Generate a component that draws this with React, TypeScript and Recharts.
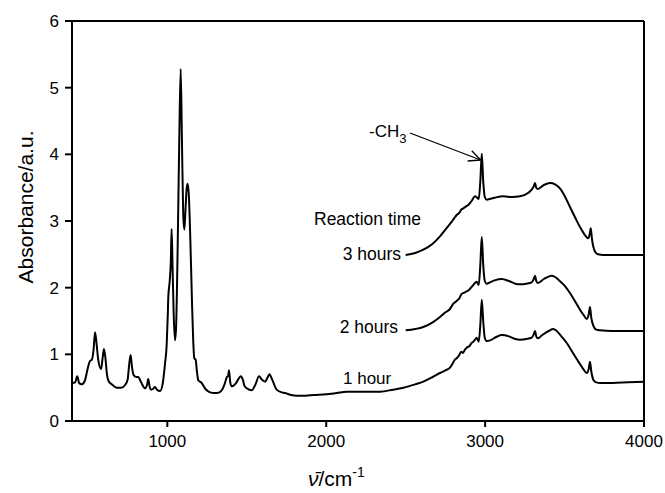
import { LineChart, Line, XAxis, YAxis, ReferenceLine } from 'recharts';

// wavenumber (cm-1) / absorbance
const wn1h = [
  400, 420, 433, 445, 460, 480, 500, 513, 525, 535, 545, 555, 565, 583, 593, 601, 610, 620, 630, 650,
  681, 710, 734, 750, 760, 769, 778, 790, 805, 817, 835, 860, 873, 880, 888, 897, 910, 922, 935, 954,
  970, 985, 996, 1003, 1006, 1015, 1022, 1027, 1033, 1040, 1048, 1055, 1065, 1075, 1084, 1092, 1100,
  1107, 1115, 1122, 1128, 1135, 1145, 1155, 1163, 1170, 1178, 1186, 1195, 1216, 1240, 1260, 1289,
  1315, 1342, 1360, 1375, 1383, 1388, 1396, 1405, 1430, 1450, 1462, 1475, 1485, 1500, 1531, 1555,
  1577, 1595, 1615, 1630, 1642, 1660, 1688, 1720, 1741, 1780, 1814, 1870, 1919, 2000, 2066, 2129,
  2200, 2339, 2420, 2486, 2560, 2611, 2670, 2716, 2750, 2779, 2800, 2810, 2821, 2835, 2850, 2860,
  2873, 2884, 2900, 2915, 2926, 2940, 2947, 2960, 2970, 2979, 2988, 2998, 3010, 3031, 3070, 3104,
  3150, 3190, 3220, 3260, 3293, 3306, 3314, 3322, 3332, 3360, 3400, 3429, 3451, 3480, 3514, 3550,
  3587, 3615, 3640, 3652, 3660, 3668, 3681, 3700, 3723, 3800, 3900, 4000,
];
const abs1h = [
  0.57, 0.58, 0.67, 0.57, 0.55, 0.6, 0.8, 0.9, 0.92, 1.05, 1.33, 1.15, 0.92, 0.78, 0.95, 1.08, 0.95, 0.7, 0.6, 0.55,
  0.5, 0.5, 0.54, 0.62, 0.85, 0.99, 0.8, 0.68, 0.66, 0.66, 0.58, 0.49, 0.55, 0.63, 0.52, 0.47, 0.48, 0.51, 0.47, 0.45,
  0.55, 0.85, 1.15, 1.6, 1.86, 2.1, 2.4, 2.88, 2.3, 1.6, 1.21, 1.4, 2.6, 4.2, 5.28, 4.2, 3.1,
  2.87, 3.2, 3.5, 3.56, 3.4, 2.7, 1.8, 1.2, 0.94, 0.92, 0.75, 0.61, 0.57, 0.48, 0.44, 0.42,
  0.42, 0.46, 0.55, 0.66, 0.68, 0.76, 0.58, 0.52, 0.56, 0.64, 0.67, 0.62, 0.53, 0.49, 0.46, 0.55,
  0.67, 0.62, 0.59, 0.65, 0.7, 0.62, 0.47, 0.43, 0.42, 0.39, 0.38, 0.38, 0.39, 0.4, 0.42, 0.44,
  0.44, 0.44, 0.47, 0.5, 0.55, 0.59, 0.66, 0.72, 0.76, 0.8, 0.88, 0.92, 0.94, 0.98, 1.04, 1.02,
  1.07, 1.1, 1.12, 1.17, 1.19, 1.23, 1.25, 1.19, 1.45, 1.82, 1.5, 1.25, 1.2, 1.21, 1.26, 1.29,
  1.27, 1.23, 1.22, 1.23, 1.25, 1.3, 1.35, 1.27, 1.24, 1.29, 1.35, 1.38, 1.35, 1.27, 1.17, 1.03,
  0.89, 0.79, 0.72, 0.78, 0.89, 0.75, 0.62, 0.58, 0.57, 0.57, 0.58, 0.59,
];

const wn2h = [
  2500, 2560, 2611, 2670, 2716, 2750, 2779, 2800, 2821, 2840, 2850, 2873, 2900, 2926, 2947, 2960,
  2970, 2979, 2988, 2998, 3010, 3021, 3060, 3104, 3150, 3190, 3220, 3260, 3293, 3306, 3314, 3322,
  3332, 3370, 3419, 3440, 3461, 3500, 3534, 3565, 3597, 3620, 3640, 3652, 3660, 3668, 3685, 3700,
  3723, 3800, 4000,
];
const abs2h = [
  1.36, 1.38, 1.41, 1.48, 1.56, 1.63, 1.68, 1.76, 1.8, 1.85, 1.9, 1.93, 1.97, 2.04, 2.09, 2.04,
  2.35, 2.76, 2.35, 2.1, 2.06, 2.07, 2.11, 2.13, 2.1, 2.06, 2.05, 2.06, 2.08, 2.13, 2.18, 2.1,
  2.07, 2.13, 2.18, 2.16, 2.12, 2.03, 1.92, 1.8, 1.67, 1.59, 1.53, 1.6, 1.71, 1.55, 1.41, 1.37,
  1.36, 1.35, 1.35,
];

const wn3h = [
  2500, 2560, 2611, 2670, 2716, 2750, 2790, 2805, 2821, 2840, 2850, 2863, 2880, 2894, 2915, 2936,
  2950, 2960, 2970, 2979, 2988, 2998, 3010, 3060, 3115, 3170, 3220, 3270, 3293, 3306, 3314, 3322,
  3332, 3370, 3409, 3440, 3471, 3500, 3534, 3565, 3597, 3625, 3650, 3658, 3665, 3673, 3692, 3710,
  3744, 4000,
];
const abs3h = [
  2.49, 2.52, 2.57, 2.66, 2.77, 2.87, 2.99, 3.04, 3.09, 3.13, 3.17, 3.19, 3.22, 3.24, 3.3, 3.37,
  3.35, 3.33, 3.6, 4.01, 3.6, 3.36, 3.32, 3.35, 3.37, 3.36, 3.37, 3.42, 3.47, 3.52, 3.57, 3.5,
  3.48, 3.54, 3.57, 3.55, 3.49, 3.38, 3.21, 3.06, 2.91, 2.8, 2.74, 2.8, 2.89, 2.72, 2.54, 2.5,
  2.49, 2.49,
];

const xTicks = [1000, 2000, 3000, 4000];
const yTicks = [0, 1, 2, 3, 4, 5, 6];

const zip = (xs: number[], ys: number[]) => xs.map((x, i) => ({ wn: x, a: ys[i] }));
const series = [zip(wn1h, abs1h), zip(wn2h, abs2h), zip(wn3h, abs3h)];

const FONT = '"Liberation Sans", Arial, Helvetica, sans-serif';

export default function App() {
  return (
    <div style={{ position: 'absolute', left: 0, top: 0, background: '#fff' }}>
      <LineChart width={665} height={493} margin={{ top: 21, right: 21, left: 0, bottom: 0 }}>
        <XAxis
          dataKey="wn"
          type="number"
          domain={[400, 4000]}
          ticks={xTicks}
          allowDuplicatedCategory={false}
          height={72}
          tickSize={6}
          tickMargin={8}
          stroke="#000"
          strokeWidth={2}
          tick={{ fill: '#000', fontSize: 17, fontFamily: FONT }}
        />
        <YAxis
          type="number"
          domain={[0, 6]}
          ticks={yTicks}
          width={72}
          tickSize={7}
          tickMargin={6}
          stroke="#000"
          strokeWidth={2}
          tick={{ fill: '#000', fontSize: 17, fontFamily: FONT }}
        />
        <ReferenceLine y={6} stroke="#000" strokeWidth={2} />
        <ReferenceLine x={4000} stroke="#000" strokeWidth={2} />

        {series.map((d, i) => (
          <Line
            key={i}
            data={d}
            dataKey="a"
            type="monotone"
            stroke="#000"
            strokeWidth={2}
            dot={false}
            isAnimationActive={false}
          />
        ))}

        {/* arrow to the -CH3 peak */}
        <ReferenceLine segment={[{ x: 2527, y: 4.32 }, { x: 2972, y: 3.915 }]} stroke="#000" strokeWidth={1.3} />
        <ReferenceLine segment={[{ x: 2890, y: 3.9 }, { x: 2972, y: 3.915 }]} stroke="#000" strokeWidth={1.3} />
        <ReferenceLine segment={[{ x: 2916, y: 4.054 }, { x: 2972, y: 3.915 }]} stroke="#000" strokeWidth={1.3} />

        <text x={369} y={137} fontFamily={FONT} fontSize={17} fill="#000">
          -CH<tspan dy={6} fontSize={13}>3</tspan>
        </text>
        <text x={421} y={225} textAnchor="end" fontFamily={FONT} fontSize={17.5} fill="#000">Reaction time</text>
        <text x={401} y={260} textAnchor="end" fontFamily={FONT} fontSize={17.5} fill="#000">3 hours</text>
        <text x={398} y={333} textAnchor="end" fontFamily={FONT} fontSize={17.5} fill="#000">2 hours</text>
        <text x={343} y={384} fontFamily={FONT} fontSize={17} fill="#000">1 hour</text>

        <text x={33} y={207} textAnchor="middle" transform="rotate(-90 33 207)" fontFamily={FONT} fontSize={21} fill="#000">
          Absorbance/a.u.
        </text>
        <text x={308} y={486} fontFamily={FONT} fontSize={21} fill="#000">
          <tspan fontStyle="italic">ν̄</tspan>/cm<tspan dy={-9} fontSize={14}>-1</tspan>
        </text>
      </LineChart>
    </div>
  );
}
